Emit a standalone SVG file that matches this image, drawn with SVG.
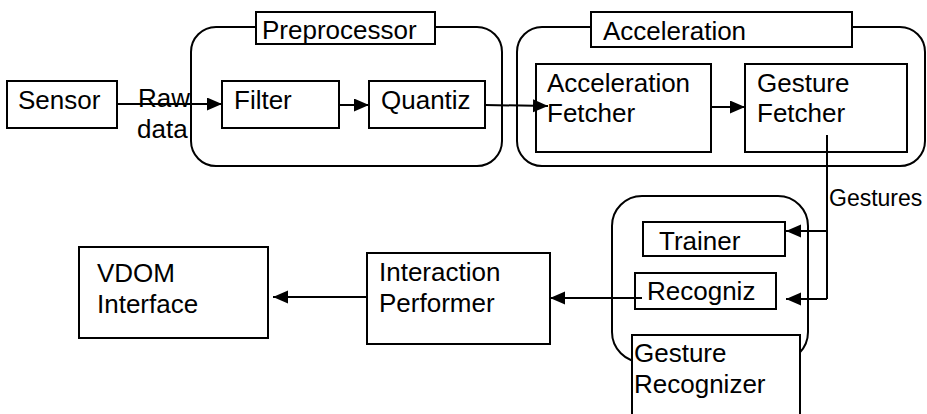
<svg xmlns="http://www.w3.org/2000/svg" width="927" height="414" viewBox="0 0 927 414">
<style>
.box{fill:#fff;stroke:#000;stroke-width:2}
.cont{fill:none;stroke:#000;stroke-width:2}
.t{font-family:"Liberation Sans",Arial,sans-serif;font-size:26px;fill:#000}
.s{font-family:"Liberation Sans",Arial,sans-serif;font-size:23px;fill:#000}
.ln{fill:none;stroke:#000;stroke-width:2}
</style>
<defs>
<marker id="ah" markerUnits="userSpaceOnUse" markerWidth="16" markerHeight="14" refX="15" refY="6.5" orient="auto">
<path d="M0,0 L15,6.5 L0,13 z" fill="#000"/>
</marker>
</defs>
<rect width="927" height="414" fill="#fff"/>
<g id="preprocessor">
<rect class="cont" x="191" y="27" width="311" height="139" rx="25"/>
<rect class="box" x="256" y="12" width="179" height="32"/>
<text class="t" x="262" y="39">Preprocessor</text>
</g>
<g id="acceleration">
<rect class="cont" x="517" y="27" width="408" height="139" rx="25"/>
<rect class="box" x="591" y="12" width="261" height="35"/>
<text class="t" x="603" y="40">Acceleration</text>
</g>
<g id="gesture-recognizer">
<rect class="cont" x="612" y="196" width="196" height="166" rx="30"/>
<rect class="box" x="632" y="335" width="168" height="90"/>
<text class="t" x="634" y="362">Gesture</text>
<text class="t" x="634" y="393">Recognizer</text>
</g>
<g id="sensor">
<rect class="box" x="7" y="81" width="110" height="47"/>
<text class="t" x="18" y="109">Sensor</text>
</g>
<g id="filter">
<rect class="box" x="222" y="81" width="117" height="47"/>
<text class="t" x="234" y="109">Filter</text>
</g>
<g id="quantiz">
<rect class="box" x="369" y="81" width="116" height="47"/>
<text class="t" x="381" y="109">Quantiz</text>
</g>
<g id="acceleration-fetcher">
<rect class="box" x="536" y="64" width="175" height="88"/>
<text class="t" x="547" y="92">Acceleration</text>
<text class="t" x="547" y="122">Fetcher</text>
</g>
<g id="gesture-fetcher">
<rect class="box" x="745" y="64" width="162" height="88"/>
<text class="t" x="757" y="92">Gesture</text>
<text class="t" x="757" y="122">Fetcher</text>
</g>
<g id="trainer">
<rect class="box" x="643" y="222" width="142" height="34"/>
<text class="t" x="659" y="250">Trainer</text>
</g>
<g id="recogniz">
<rect class="box" x="635" y="273" width="141" height="36"/>
<text class="t" x="647" y="300">Recogniz</text>
</g>
<g id="interaction-performer">
<rect class="box" x="367" y="253" width="183" height="91"/>
<text class="t" x="379" y="281">Interaction</text>
<text class="t" x="379" y="312">Performer</text>
</g>
<g id="vdom-interface">
<rect class="box" x="79" y="247" width="189" height="91"/>
<text class="t" x="97" y="282">VDOM</text>
<text class="t" x="97" y="313">Interface</text>
</g>
<g id="connectors">
<line class="ln" x1="117" y1="104" x2="222" y2="104" marker-end="url(#ah)"/>
<line class="ln" x1="339" y1="105" x2="369" y2="105" marker-end="url(#ah)"/>
<line class="ln" x1="485" y1="105" x2="548" y2="106" marker-end="url(#ah)"/>
<line class="ln" x1="711" y1="107" x2="745" y2="107" marker-end="url(#ah)"/>
<polyline class="ln" points="827,135 827,299"/>
<line class="ln" x1="827" y1="231" x2="786" y2="231" marker-end="url(#ah)"/>
<line class="ln" x1="827" y1="299" x2="786" y2="299" marker-end="url(#ah)"/>
<line class="ln" x1="642" y1="298" x2="550" y2="298" marker-end="url(#ah)"/>
<line class="ln" x1="367" y1="297" x2="273" y2="297" marker-end="url(#ah)"/>
<text class="t" x="138" y="107">Raw</text>
<text class="t" x="137" y="138">data</text>
<text class="s" x="829" y="206">Gestures</text>
</g>
</svg>
